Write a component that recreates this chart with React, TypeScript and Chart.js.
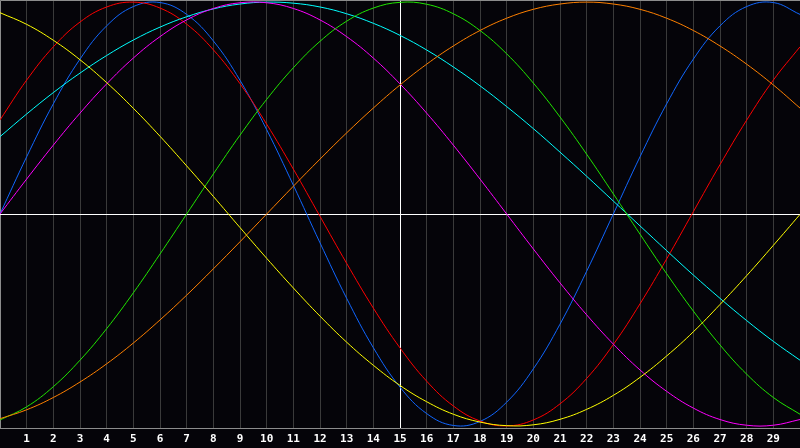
import React, { useEffect, useRef } from "react";
import { Chart, registerables } from "chart.js";

Chart.register(...registerables);

const X_VALUES = [0, 1, 2, 3, 4, 5, 6, 7, 8, 9, 10, 11, 12, 13, 14, 15, 16, 17, 18, 19, 20, 21, 22, 23, 24, 25, 26, 27, 28, 29, 30];
const TICK_LABELS = ["1", "2", "3", "4", "5", "6", "7", "8", "9", "10", "11", "12", "13", "14", "15", "16", "17", "18", "19", "20", "21", "22", "23", "24", "25", "26", "27", "28", "29"];

const YELLOW = [0.95, 0.895, 0.82, 0.728, 0.62, 0.499, 0.367, 0.227, 0.083, -0.064, -0.209, -0.349, -0.482, -0.605, -0.714, -0.809, -0.886, -0.945, -0.982, -0.999, -0.995, -0.969, -0.922, -0.856, -0.771, -0.67, -0.556, -0.427, -0.291, -0.148, -0.002];
const RED = [0.444, 0.632, 0.789, 0.906, 0.977, 1.0, 0.972, 0.896, 0.775, 0.615, 0.424, 0.212, -0.011, -0.233, -0.444, -0.632, -0.789, -0.906, -0.977, -1.0, -0.972, -0.896, -0.776, -0.616, -0.424, -0.212, 0.011, 0.233, 0.443, 0.632, 0.789];
const BLUE = [0, 0.27, 0.52, 0.731, 0.888, 0.979, 0.998, 0.942, 0.817, 0.631, 0.398, 0.136, -0.136, -0.398, -0.631, -0.817, -0.942, -0.998, -0.979, -0.888, -0.731, -0.52, -0.27, 0, 0.27, 0.52, 0.731, 0.888, 0.979, 0.998, 0.942];
const CYAN = [0.365, 0.472, 0.573, 0.665, 0.748, 0.821, 0.882, 0.931, 0.968, 0.991, 1.0, 0.995, 0.977, 0.945, 0.9, 0.843, 0.774, 0.694, 0.605, 0.507, 0.403, 0.292, 0.178, 0.061, -0.056, -0.173, -0.288, -0.398, -0.503, -0.601, -0.69];
const MAGENTA = [0, 0.165, 0.325, 0.476, 0.614, 0.736, 0.837, 0.916, 0.97, 0.997, 0.997, 0.97, 0.916, 0.837, 0.736, 0.614, 0.476, 0.325, 0.165, 0, -0.165, -0.325, -0.476, -0.614, -0.736, -0.837, -0.916, -0.97, -0.997, -0.997, -0.97];
const GREEN = [-0.972, -0.91, -0.815, -0.69, -0.541, -0.372, -0.189, 0, 0.189, 0.372, 0.541, 0.69, 0.815, 0.91, 0.972, 0.999, 0.99, 0.945, 0.866, 0.756, 0.618, 0.458, 0.282, 0.095, -0.095, -0.282, -0.458, -0.618, -0.756, -0.866, -0.945];
const ORANGE = [-0.966, -0.924, -0.866, -0.793, -0.707, -0.609, -0.5, -0.383, -0.259, -0.131, 0, 0.131, 0.259, 0.383, 0.5, 0.609, 0.707, 0.793, 0.866, 0.924, 0.966, 0.991, 1.0, 0.991, 0.966, 0.924, 0.866, 0.793, 0.707, 0.609, 0.5];

const SERIES: { name: string; values: number[]; color: string }[] = [
  { name: "yellow", values: YELLOW, color: "#ffff00" },
  { name: "orange", values: ORANGE, color: "#ff8000" },
  { name: "green", values: GREEN, color: "#20e600" },
  { name: "magenta", values: MAGENTA, color: "#ff00ff" },
  { name: "cyan", values: CYAN, color: "#00ffff" },
  { name: "red", values: RED, color: "#ff0000" },
  { name: "blue", values: BLUE, color: "#1066ff" },
];

const BG = "#050409";
const GRID = "#3a3a3a";
const BORDER = "#8c8c8c";

const framePlugin = {
  id: "frame",
  beforeDraw(chart: any) {
    const ctx = chart.ctx;
    ctx.save();
    ctx.fillStyle = BG;
    ctx.fillRect(0, 0, chart.width, chart.height);
    ctx.restore();
  },
  beforeDatasetsDraw(chart: any) {
    const { ctx, chartArea, scales } = chart;
    ctx.save();
    ctx.strokeStyle = BORDER;
    ctx.lineWidth = 1;
    ctx.beginPath();
    ctx.moveTo(chartArea.left + 0.5, chartArea.bottom);
    ctx.lineTo(chartArea.left + 0.5, chartArea.top + 0.5);
    ctx.lineTo(chartArea.right, chartArea.top + 0.5);
    ctx.stroke();
    const y0 = Math.round(scales.y.getPixelForValue(0)) + 0.5;
    ctx.strokeStyle = "#ffffff";
    ctx.beginPath();
    ctx.moveTo(chartArea.left, y0);
    ctx.lineTo(chartArea.right, y0);
    ctx.stroke();
    ctx.restore();
  },
};

export default function App() {
  const ref = useRef<HTMLCanvasElement | null>(null);

  useEffect(() => {
    document.body.style.margin = "0";
    document.body.style.background = BG;
    const canvas = ref.current;
    if (!canvas) return;
    const chart = new Chart(canvas, {
      type: "line",
      data: {
        datasets: SERIES.map((s) => ({
          label: s.name,
          data: s.values.map((v, i) => ({ x: X_VALUES[i], y: v })),
          borderColor: s.color,
          backgroundColor: s.color,
          borderWidth: 1,
          pointRadius: 0,
          pointHoverRadius: 0,
          pointHitRadius: 0,
          tension: 0.4,
          fill: false,
        })),
      },
      options: {
        responsive: false,
        animation: false,
        devicePixelRatio: 1,
        layout: { padding: 0, autoPadding: false },
        plugins: {
          legend: { display: false },
          title: { display: false },
          tooltip: { enabled: false },
        },
        events: [],
        scales: {
          x: {
            type: "linear",
            min: 0,
            max: 30,
            offset: false,
            afterFit: (scale: any) => {
              scale.height = 20;
              scale.paddingLeft = 0;
              scale.paddingRight = 0;
            },
            ticks: {
              stepSize: 1,
              autoSkip: false,
              maxRotation: 0,
              padding: 5,
              color: "#ffffff",
              font: { family: "'DejaVu Sans Mono'", size: 11, weight: "bold" },
              callback: (value: any) => {
                const idx = TICK_LABELS.indexOf(String(value));
                return idx >= 0 ? TICK_LABELS[idx] : "";
              },
            },
            grid: {
              drawTicks: false,
              lineWidth: 1,
              color: (ctx: any) => (ctx.tick && ctx.tick.value === 15 ? "#ffffff" : GRID),
            },
            border: { display: true, color: BORDER, width: 1 },
          },
          y: {
            display: false,
            min: -1.01,
            max: 1.01,
          },
        },
      },
      plugins: [framePlugin],
    });
    return () => chart.destroy();
  }, []);

  return (
    <div style={{ position: "fixed", left: 0, top: 0, width: 800, height: 448, background: BG }}>
      <canvas ref={ref} width={800} height={448} style={{ display: "block" }} />
    </div>
  );
}
